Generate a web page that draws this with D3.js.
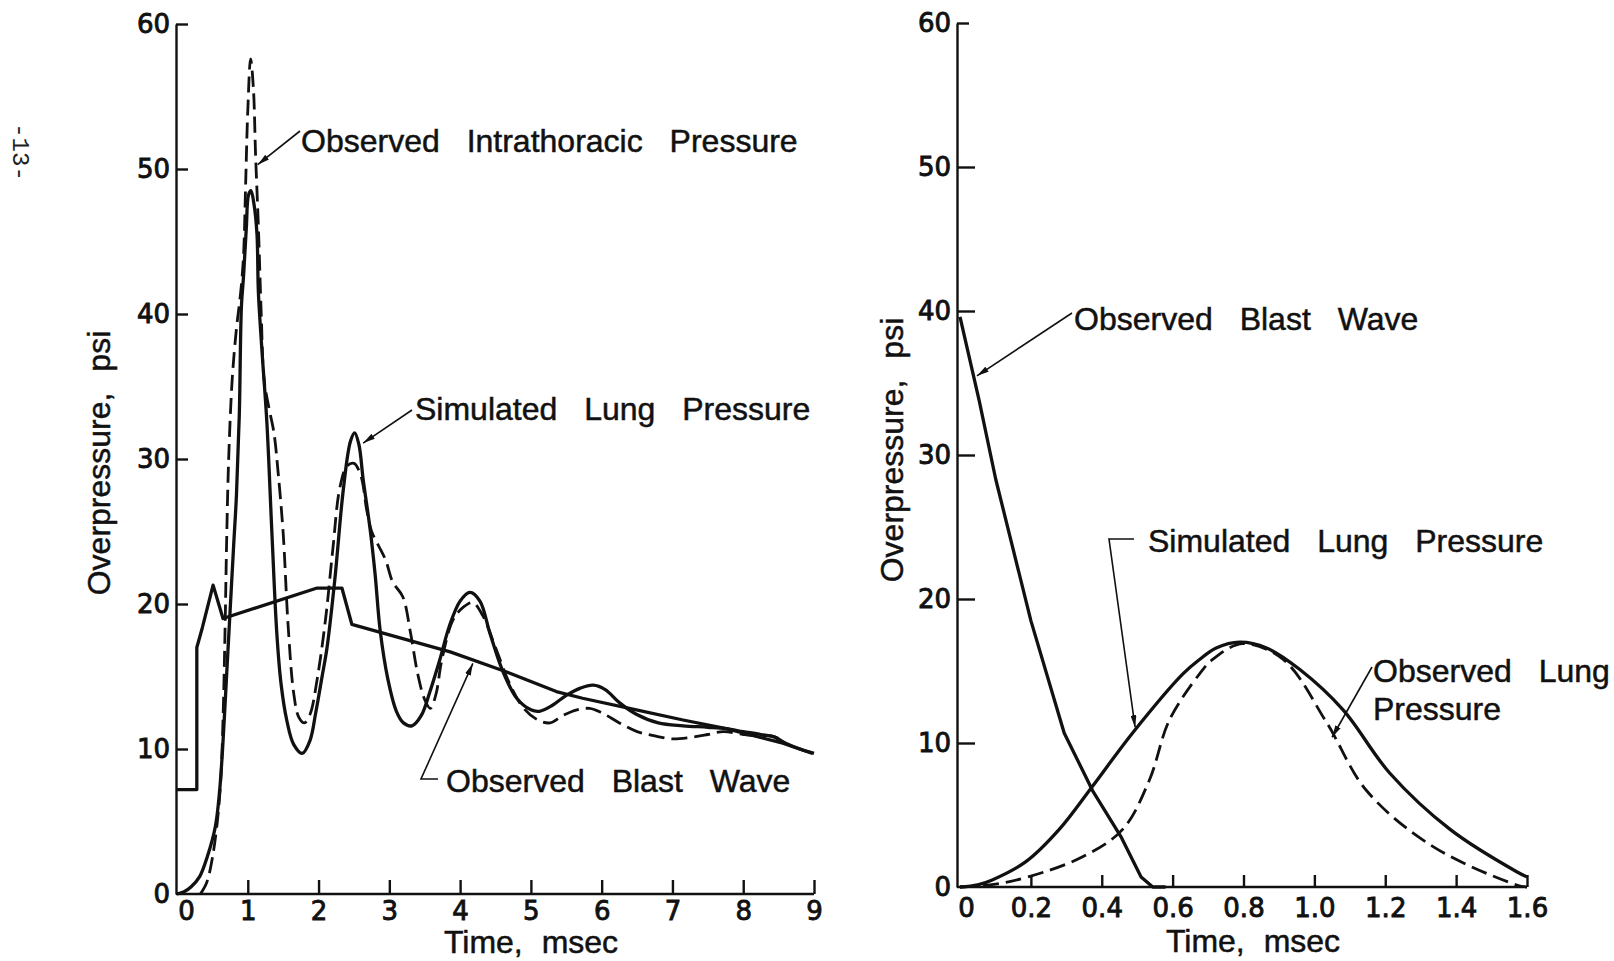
<!DOCTYPE html>
<html>
<head>
<meta charset="utf-8">
<script src="https://cdn.jsdelivr.net/npm/d3@7"></script>
<style>
	body { margin: 0; background: #fff; }
	svg { display: block; }
	.lbl { font-family: "Liberation Sans", Arial, sans-serif; font-size: 32px; fill: #111; stroke: #111; stroke-width: 0.5; word-spacing: 18px; }
	.axis text { font-family: "DejaVu Sans", sans-serif; font-size: 26px; fill: #111; stroke: #111; stroke-width: 0.9; }
	.axis path, .axis line { stroke: #111; stroke-width: 2.4; }
</style>
</head>
<body>
<div id="chart"></div>
<script>
// left panel: time in msec, overpressure in psi
const yTicks = [0, 10, 20, 30, 40, 50, 60];
const leftTicksX = [0, 1, 2, 3, 4, 5, 6, 7, 8, 9];

const leftBlastWave = [
	[0, 7.2], [0.28, 7.2], [0.28, 17], [0.36, 18.4], [0.51, 21.3], [0.65, 19], [1.98, 21.1], [2.33, 21.1],
	[2.47, 18.6], [3.86, 16.7], [4.61, 15.4], [5.36, 13.96], [5.73, 13.5], [6.49, 12.7], [7.15, 12.0],
	[7.76, 11.4], [8.56, 10.4], [8.98, 9.7],
];
const leftSimulatedLung = [
	[0, 0], [0.1, 0.15], [0.2, 0.5], [0.32, 1.2], [0.43, 2.6], [0.54, 4.6], [0.6, 7], [0.65, 10.5], [0.7, 15],
	[0.75, 19.5], [0.8, 24], [0.84, 27.5], [0.88, 33], [0.91, 40.5], [0.94, 42.6], [0.98, 46], [1.01, 48.2],
	[1.045, 48.5], [1.09, 47.5], [1.13, 45.5], [1.15, 41.5], [1.2, 37.5], [1.27, 32.5], [1.34, 25], [1.41, 18],
	[1.47, 14.5], [1.55, 12], [1.65, 10.3], [1.77, 9.7], [1.88, 10.6], [1.96, 12.5], [2.05, 15], [2.12, 17],
	[2.23, 21.7], [2.35, 27.9], [2.45, 31.2], [2.51, 31.8], [2.57, 31], [2.63, 28.6], [2.73, 25.1], [2.8, 22],
	[2.87, 18.2], [2.98, 14.8], [3.1, 12.6], [3.2, 11.8], [3.32, 11.6], [3.45, 12.3], [3.57, 13.9], [3.71, 16.1],
	[3.85, 18.5], [4.0, 20.2], [4.14, 20.8], [4.28, 20.2], [4.42, 18], [4.6, 15.4], [4.8, 13.5], [5.0, 12.7],
	[5.12, 12.6], [5.3, 13], [5.5, 13.7], [5.7, 14.2], [5.88, 14.4], [6.05, 14.1], [6.25, 13.2], [6.49, 12.4],
	[6.8, 11.8], [7.15, 11.6], [7.5, 11.5], [7.76, 11.4], [8.0, 11.2], [8.25, 11.0], [8.45, 10.8], [8.6, 10.4],
	[8.8, 10.0], [9.0, 9.7],
];
const leftIntrathoracic = [
	[0.33, 0], [0.42, 0.8], [0.5, 2.5], [0.57, 5], [0.62, 8], [0.65, 12], [0.68, 18.5], [0.7, 24], [0.73, 30],
	[0.78, 35.5], [0.84, 39], [0.9, 41.5], [0.94, 44], [0.97, 49], [1.0, 54], [1.04, 57.6], [1.08, 55.5],
	[1.11, 51], [1.15, 46], [1.19, 40], [1.23, 35.5], [1.3, 33.5], [1.37, 31.8], [1.43, 29], [1.5, 24.9],
	[1.57, 18.5], [1.65, 13.8], [1.72, 12.2], [1.8, 11.8], [1.88, 12.4], [1.98, 14.8], [2.1, 19], [2.2, 23.7],
	[2.3, 28], [2.4, 29.5], [2.5, 29.7], [2.6, 28.8], [2.68, 26.5], [2.75, 25], [2.85, 24], [2.95, 23],
	[3.05, 21.5], [3.19, 20.5], [3.3, 18], [3.4, 15.2], [3.5, 13.4], [3.58, 12.8], [3.66, 13.8], [3.74, 16.1],
	[3.9, 18.9], [4.05, 19.8], [4.18, 20.1], [4.32, 19.2], [4.5, 17], [4.7, 14.5], [4.9, 12.8], [5.1, 12],
	[5.27, 11.8], [5.45, 12.3], [5.65, 12.7], [5.83, 12.8], [6.0, 12.5], [6.25, 11.8], [6.5, 11.2], [6.75, 10.9],
	[7.0, 10.7], [7.25, 10.8], [7.5, 11.0], [7.72, 11.2], [8.0, 11.0], [8.2, 10.9], [8.4, 10.9], [8.55, 10.6],
];

// right panel
const rightTicksX = [0, 0.2, 0.4, 0.6, 0.8, 1.0, 1.2, 1.4, 1.6];
const rightTickLabels = ["0", "0.2", "0.4", "0.6", "0.8", "1.0", "1.2", "1.4", "1.6"];

const rightBlastWave = [
	[0, 39.6], [0.054, 33.8], [0.101, 28.3], [0.2, 18.5], [0.294, 10.7], [0.374, 6.7], [0.454, 3.5],
	[0.511, 0.7], [0.544, 0], [0.58, 0],
];
const rightSimulatedLung = [
	[0, 0], [0.05, 0.15], [0.091, 0.49], [0.186, 1.76], [0.28, 4.0], [0.374, 7.0], [0.487, 10.7], [0.629, 14.8],
	[0.676, 15.8], [0.723, 16.6], [0.789, 17.0], [0.865, 16.6], [0.959, 15.1], [1.081, 12.3], [1.213, 7.9],
	[1.383, 4.0], [1.571, 1.06], [1.6, 0.7],
];
const rightObservedLung = [
	[0, 0], [0.1, 0.2], [0.195, 0.72], [0.346, 2.1], [0.459, 4.0], [0.534, 7.4], [0.591, 11.6], [0.676, 14.8],
	[0.713, 15.8], [0.798, 16.9], [0.912, 15.8], [1.035, 11.4], [1.147, 6.7], [1.335, 2.8], [1.571, 0.14],
	[1.6, 0],
];

const width = 1614;
const height = 961;

const svg = d3.select("#chart").append("svg").attr("width", width).attr("height", height);
svg.append("rect").attr("width", width).attr("height", height).attr("fill", "#fff");

svg.append("defs")
	.append("marker")
	.attr("id", "arrow")
	.attr("viewBox", "0 0 12 6")
	.attr("refX", 12)
	.attr("refY", 3)
	.attr("markerWidth", 12)
	.attr("markerHeight", 6)
	.attr("markerUnits", "userSpaceOnUse")
	.attr("orient", "auto")
	.append("path")
	.attr("d", "M0,0L12,3L0,6Z")
	.attr("fill", "#111");

const smooth = d3.line().curve(d3.curveCatmullRom.alpha(0.5));
const straight = d3.line();

function drawPanel(o) {
	const x = d3.scaleLinear().domain(o.xDomain).range(o.xRange);
	const y = d3.scaleLinear().domain([0, 60]).range(o.yRange);
	const g = svg.append("g");

	const xAxis = g.append("g")
		.attr("class", "axis")
		.attr("transform", `translate(0,${o.yRange[0]})`)
		.call(d3.axisBottom(x).tickValues(o.ticksX).tickFormat((d, i) => o.tickLabels[i])
			.tickSizeInner(-o.tickX).tickSizeOuter(0).tickPadding(o.padX));
	xAxis.select(".domain").attr("d", `M${o.axisX},0H${o.xRange[1]}`);
	xAxis.selectAll(".tick text").filter((d) => d === 0).attr("dx", o.zeroDx);
	xAxis.selectAll(".tick line").filter((d) => d === 0).remove();

	const yAxis = g.append("g")
		.attr("class", "axis")
		.attr("transform", `translate(${o.axisX},0)`)
		.call(d3.axisLeft(y).tickValues(yTicks).tickSizeInner(-o.tickY).tickSizeOuter(0).tickPadding(6));
	yAxis.selectAll(".tick line").filter((d) => d === 60).attr("x2", 12);
	yAxis.selectAll(".tick line").filter((d) => d === 0).remove();
	g.selectAll(".axis text").attr("font-family", null).attr("font-size", null);

	o.series.forEach((s) => {
		g.append("path")
			.attr("d", (s.linear ? straight : smooth)(s.data.map(([t, v]) => [x(t), y(v)])))
			.attr("fill", "none")
			.attr("stroke", "#111")
			.attr("stroke-width", s.dashed ? 2.8 : 3.3)
			.attr("stroke-dasharray", s.dashed ? "16,7" : null)
			.attr("stroke-linejoin", "round");
	});

	o.notes.forEach((n) => {
		const pts = n.from.concat([[x(n.tip[0]), y(n.tip[1])]]);
		g.append("path")
			.attr("d", straight(pts))
			.attr("fill", "none")
			.attr("stroke", "#111")
			.attr("stroke-width", 1.6)
			.attr("marker-end", "url(#arrow)");
		n.lines.forEach((txt, i) => {
			g.append("text")
				.attr("class", "lbl")
				.attr("x", n.text[0])
				.attr("y", n.text[1] + i * 38)
				.text(txt);
		});
	});

	g.append("text")
		.attr("class", "lbl")
		.attr("text-anchor", "middle")
		.attr("transform", `translate(${o.yTitle[0]},${o.yTitle[1]}) rotate(-90)`)
		.style("word-spacing", "12px")
		.text("Overpressure, psi");

	g.append("text")
		.attr("class", "lbl")
		.attr("text-anchor", "middle")
		.attr("x", o.xTitle[0])
		.attr("y", o.xTitle[1])
		.style("word-spacing", "10px")
		.text("Time, msec");
}

drawPanel({
	xDomain: [0, 9],
	xRange: [177, 814],
	yRange: [894, 24],
	axisX: 176,
	ticksX: leftTicksX,
	tickLabels: leftTicksX.map(String),
	tickX: 14,
	tickY: 12,
	padX: 8,
	zeroDx: 9,
	series: [
		{ data: leftBlastWave, linear: true },
		{ data: leftSimulatedLung },
		{ data: leftIntrathoracic, dashed: true },
	],
	notes: [
		{ from: [[300, 131]], tip: [1.14, 50.3], text: [301, 152], lines: ["Observed Intrathoracic Pressure"] },
		{ from: [[412, 410]], tip: [2.63, 31.1], text: [415, 420], lines: ["Simulated Lung Pressure"] },
		{ from: [[438, 779], [421, 779]], tip: [4.18, 15.9], text: [446, 792], lines: ["Observed Blast Wave"] },
	],
	yTitle: [110, 463],
	xTitle: [531, 953],
});

drawPanel({
	xDomain: [0, 1.6],
	xRange: [960, 1527],
	yRange: [887, 23],
	axisX: 957,
	ticksX: rightTicksX,
	tickLabels: rightTickLabels,
	tickX: 12,
	tickY: 18,
	padX: 12,
	zeroDx: 6,
	series: [
		{ data: rightBlastWave, linear: true },
		{ data: rightSimulatedLung },
		{ data: rightObservedLung, dashed: true },
	],
	notes: [
		{ from: [[1072, 313]], tip: [0.048, 35.5], text: [1074, 330], lines: ["Observed Blast Wave"] },
		{ from: [[1134, 539], [1109, 539]], tip: [0.494, 11.1], text: [1148, 552], lines: ["Simulated Lung Pressure"] },
		{ from: [[1372, 667]], tip: [1.05, 10.4], text: [1373, 682], lines: ["Observed Lung", "Pressure"] },
	],
	yTitle: [903, 450],
	xTitle: [1253, 952],
});

// page number in the margin
svg.append("text")
	.attr("transform", "translate(13,152) rotate(90)")
	.attr("text-anchor", "middle")
	.attr("font-family", "Liberation Mono, monospace")
	.attr("font-size", 24)
	.attr("fill", "#222")
	.text("-13-");
</script>
</body>
</html>
